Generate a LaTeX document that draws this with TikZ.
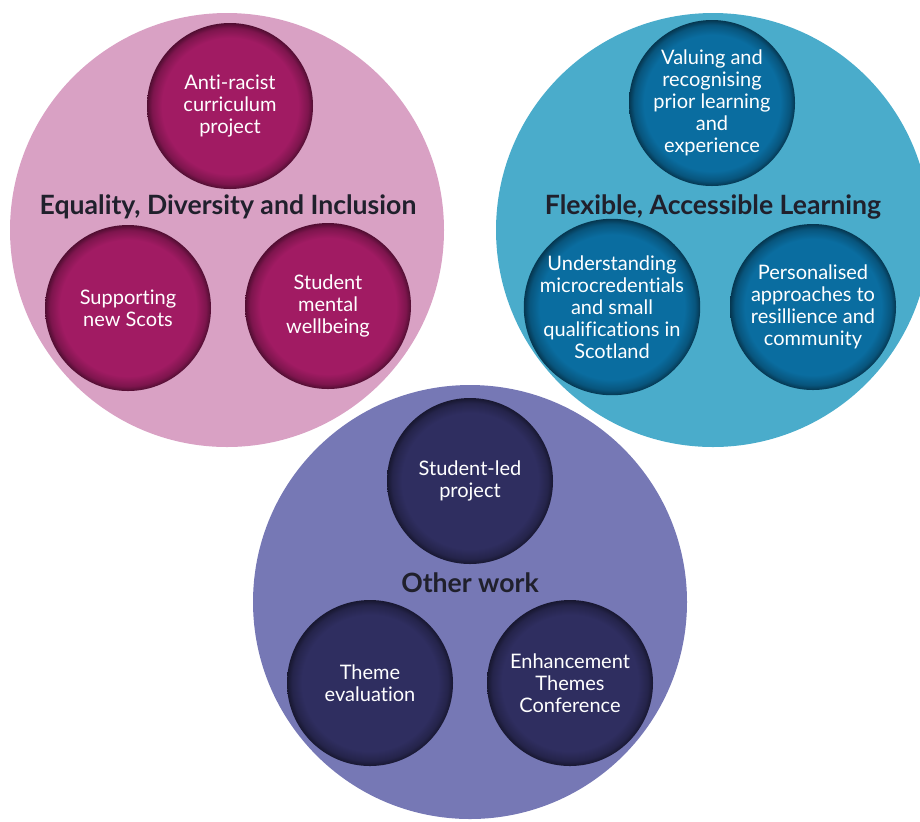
\documentclass[tikz,border=0pt]{standalone}
\usepackage{fontspec}
\setmainfont{Lato}[Ligatures=CommonOff]
\usepackage{xcolor}
\usepackage{tikz}

\definecolor{edibig}{HTML}{D9A1C4}
\definecolor{edismall}{HTML}{A11B63}
\definecolor{flexbig}{HTML}{4AACCB}
\definecolor{flexsmall}{HTML}{0A6DA0}
\definecolor{otherbig}{HTML}{7678B5}
\definecolor{othersmall}{HTML}{2F2E60}
\definecolor{titleink}{HTML}{20202C}

\pgfdeclareradialshading{edishade}{\pgfpoint{0bp}{0bp}}{color(0bp)=(edismall); color(20.5bp)=(edismall); color(23.5bp)=(edismall!78!black); color(25bp)=(edismall!50!black); color(50bp)=(edismall!50!black)}
\pgfdeclareradialshading{flexshade}{\pgfpoint{0bp}{0bp}}{color(0bp)=(flexsmall); color(20.5bp)=(flexsmall); color(23.5bp)=(flexsmall!78!black); color(25bp)=(flexsmall!50!black); color(50bp)=(flexsmall!50!black)}
\pgfdeclareradialshading{othershade}{\pgfpoint{0bp}{0bp}}{color(0bp)=(othersmall); color(20.5bp)=(othersmall); color(23.5bp)=(othersmall!78!black); color(25bp)=(othersmall!50!black); color(50bp)=(othersmall!50!black)}

\begin{document}
\begin{tikzpicture}[x=0.5pt, y=-0.5pt,
        theme/.style={circle, minimum size=217pt, inner sep=0pt},
        topic/.style={circle, minimum size=83pt, inner sep=0pt, align=center, text=white, font=\fontsize{10}{11}\selectfont},
        heading/.style={font=\fontsize{13.3}{15}\selectfont\bfseries, text=titleink}]
        \useasboundingbox (0,0) rectangle (920,821);
        \clip (0,0) rectangle (920,821);

        % big theme circles
        \node[theme, fill=edibig] (edi) at (227,230) {};
        \node[theme, fill=flexbig] (flex) at (713,230) {};
        \node[theme, fill=otherbig] (other) at (470,602) {};

        % Equality, Diversity and Inclusion
        \node[heading] (editag) at (228,207) {Equality, Diversity and Inclusion};
        \node[topic, shading=edishade] (antiracist) at (230,106) {Anti-racist\\curriculum\\project};
        \node[topic, shading=edishade] (newscots) at (128,308) {Supporting\\new Scots};
        \node[topic, shading=edishade] (wellbeing) at (328,306) {Student\\mental\\wellbeing};

        % Flexible, Accessible Learning
        \node[heading] (flextag) at (713,207) {Flexible, Accessible Learning};
        \node[topic, shading=flexshade] (priorlearning) at (712,103) {Valuing and\\recognising\\prior learning\\and\\experience};
        \node[topic, shading=flexshade] (microcred) at (612,307) {Understanding\\microcredentials\\and small\\qualifications in\\Scotland};
        \node[topic, shading=flexshade] (resilience) at (813,307) {Personalised\\approaches to\\resillience and\\community};

        % Other work
        \node[heading] (othertag) at (470,583) {Other work};
        \node[topic, shading=othershade] (studentled) at (470,481) {Student-led\\project};
        \node[topic, shading=othershade] (evaluation) at (370,683) {Theme\\evaluation};
        \node[topic, shading=othershade] (conference) at (570,683) {Enhancement\\Themes\\Conference};
    \end{tikzpicture}
\end{document}
